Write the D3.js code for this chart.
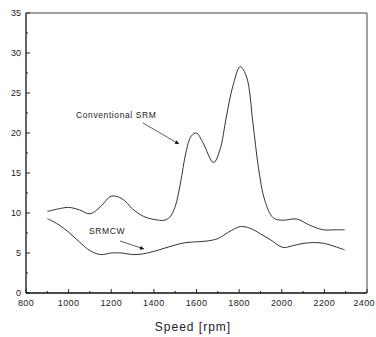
<!DOCTYPE html>
<html>
<head>
<meta charset="utf-8">
<script src="https://cdn.jsdelivr.net/npm/d3@7"></script>
<style>
  body { margin: 0; background: #fff; }
  svg text { font-family: "Liberation Sans", Arial, sans-serif; fill: #222; }
</style>
</head>
<body>
<div id="chart"></div>
<script>
// speed [rpm] and the two measured curves
var convSpeed = [900, 950, 1000, 1050, 1100, 1150, 1200, 1250, 1300, 1350, 1400, 1450, 1475, 1500, 1525, 1550, 1575, 1600, 1630, 1680, 1710, 1740, 1770, 1805, 1835, 1865, 1890, 1920, 1960, 2005, 2070, 2130, 2195, 2250, 2295];
var convValue = [10.2, 10.5, 10.7, 10.4, 9.9, 10.8, 12.1, 11.8, 10.5, 9.6, 9.2, 9.1, 9.5, 10.8, 13.8, 17.5, 19.6, 20.0, 18.8, 16.3, 17.9, 22.0, 25.8, 28.3, 27.0, 21.2, 15.8, 11.6, 9.4, 9.1, 9.25, 8.5, 7.9, 7.9, 7.9];

var cwSpeed = [900, 950, 1000, 1050, 1100, 1150, 1200, 1250, 1300, 1350, 1400, 1450, 1500, 1550, 1600, 1650, 1700, 1750, 1805, 1850, 1900, 1950, 2005, 2050, 2100, 2150, 2200, 2250, 2295];
var cwValue = [9.3, 8.6, 7.6, 6.4, 5.3, 4.8, 5.0, 5.0, 4.8, 4.9, 5.2, 5.6, 6.0, 6.3, 6.4, 6.5, 6.8, 7.6, 8.3, 8.1, 7.4, 6.6, 5.7, 5.9, 6.2, 6.3, 6.2, 5.8, 5.4];

var xTicks = [800, 1000, 1200, 1400, 1600, 1800, 2000, 2200, 2400];
var yTicks = [0, 5, 10, 15, 20, 25, 30, 35];

var width = 376, height = 337;
var margin = {top: 13, right: 9, bottom: 44, left: 26};

var svg = d3.select("#chart").append("svg")
  .attr("width", width)
  .attr("height", height);

var x = d3.scaleLinear().domain([800, 2400]).range([margin.left, width - margin.right]);
var y = d3.scaleLinear().domain([0, 35]).range([height - margin.bottom, margin.top]);

// frame (top + right)
svg.append("path")
  .attr("d", "M" + x(800) + "," + y(35) + "H" + x(2400) + "V" + y(0))
  .attr("fill", "none")
  .attr("stroke", "#444")
  .attr("stroke-width", 1);

// major + minor ticks, pointing inward
var g = svg.append("g");
d3.range(800, 2401, 100).forEach(function(v) {
  var len = v % 200 === 0 ? 4 : 2;
  g.append("line").attr("x1", x(v)).attr("x2", x(v))
    .attr("y1", y(0)).attr("y2", y(0) - len)
    .attr("stroke", "#222").attr("stroke-width", 1);
});
d3.range(0, 35.1, 2.5).forEach(function(v) {
  var len = v % 5 === 0 ? 4 : 2;
  g.append("line").attr("x1", x(800)).attr("x2", x(800) + len)
    .attr("y1", y(v)).attr("y2", y(v))
    .attr("stroke", "#222").attr("stroke-width", 1);
});

// axes lines
svg.append("line").attr("x1", x(800)).attr("x2", x(800))
  .attr("y1", y(0)).attr("y2", y(35))
  .attr("stroke", "#111").attr("stroke-width", 1.3);
svg.append("line").attr("x1", x(800)).attr("x2", x(2400))
  .attr("y1", y(0)).attr("y2", y(0))
  .attr("stroke", "#111").attr("stroke-width", 1.3);

// tick labels (last one kept inside the window)
svg.selectAll(".xl").data(xTicks).enter().append("text")
  .attr("x", function(d, i) { return i === xTicks.length - 1 ? width - 1 : x(d); })
  .attr("y", y(0) + 13)
  .attr("text-anchor", function(d, i) { return i === xTicks.length - 1 ? "end" : "middle"; })
  .attr("font-size", 9)
  .attr("letter-spacing", 0.4)
  .text(function(d) { return d; });

svg.selectAll(".yl").data(yTicks).enter().append("text")
  .attr("x", 21)
  .attr("y", function(d) { return y(d) + 3; })
  .attr("text-anchor", "end")
  .attr("font-size", 9)
  .text(function(d) { return d; });

svg.append("text")
  .attr("x", 193)
  .attr("y", 331)
  .attr("text-anchor", "middle")
  .attr("font-size", 12)
  .attr("letter-spacing", 1)
  .text("Speed [rpm]");

// curves
var line = d3.line()
  .x(function(d) { return x(d[0]); })
  .y(function(d) { return y(d[1]); })
  .curve(d3.curveCatmullRom.alpha(0.5));

svg.append("path")
  .datum(d3.zip(convSpeed, convValue))
  .attr("d", line)
  .attr("fill", "none")
  .attr("stroke", "#333")
  .attr("stroke-width", 1);

svg.append("path")
  .datum(d3.zip(cwSpeed, cwValue))
  .attr("d", line)
  .attr("fill", "none")
  .attr("stroke", "#333")
  .attr("stroke-width", 1);

// annotations with arrows
svg.append("defs").append("marker")
  .attr("id", "arrow")
  .attr("viewBox", "0 0 10 10")
  .attr("refX", 10).attr("refY", 5)
  .attr("markerWidth", 7).attr("markerHeight", 5)
  .attr("orient", "auto")
  .append("path").attr("d", "M0,0L10,5L0,10z").attr("fill", "#111");

svg.append("text")
  .attr("x", 76).attr("y", 118)
  .attr("font-size", 8.5)
  .attr("letter-spacing", 0.6)
  .text("Conventional SRM");
svg.append("line")
  .attr("x1", 143).attr("y1", 123).attr("x2", 179).attr("y2", 144)
  .attr("stroke", "#333").attr("stroke-width", 0.8)
  .attr("marker-end", "url(#arrow)");

svg.append("text")
  .attr("x", 89).attr("y", 234)
  .attr("font-size", 8.5)
  .attr("letter-spacing", 0.6)
  .text("SRMCW");
svg.append("line")
  .attr("x1", 120).attr("y1", 241).attr("x2", 144).attr("y2", 249)
  .attr("stroke", "#333").attr("stroke-width", 0.8)
  .attr("marker-end", "url(#arrow)");
</script>
</body>
</html>
